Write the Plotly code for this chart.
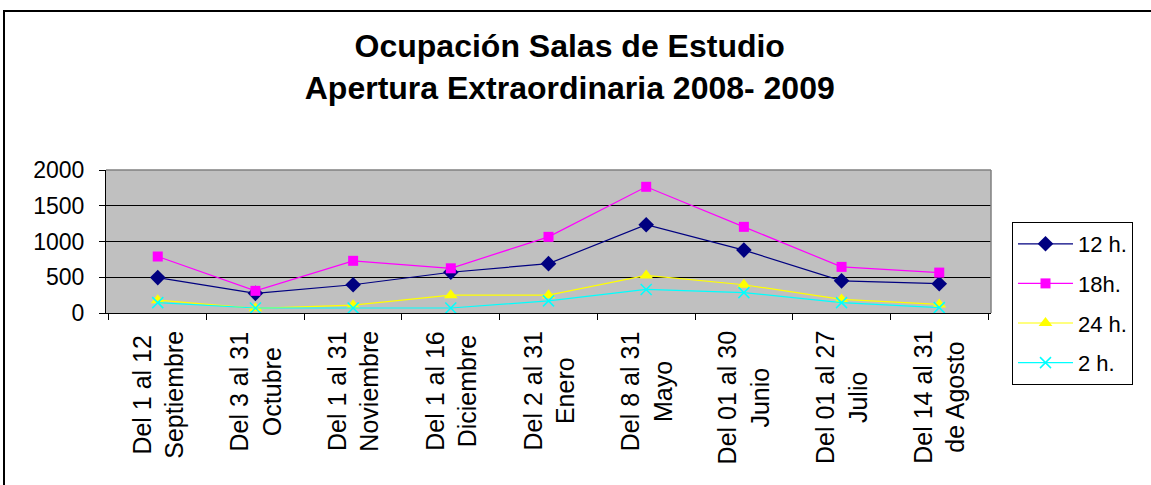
import plotly.graph_objects as go

categories = [
    "Del 1 al 12<br>Septiembre",
    "Del 3 al 31<br>Octubre",
    "Del 1 al 31<br>Noviembre",
    "Del 1 al 16<br>Diciembre",
    "Del 2 al 31<br>Enero",
    "Del 8 al 31<br>Mayo",
    "Del 01 al 30<br>Junio",
    "Del 01 al 27<br>Julio",
    "Del 14 al 31<br>de Agosto",
]
h12 = [495, 275, 395, 570, 690, 1235, 880, 450, 410]
h18 = [790, 310, 730, 625, 1065, 1765, 1205, 645, 565]
h24 = [180, 65, 110, 250, 250, 525, 395, 190, 120]
h2 = [145, 70, 70, 70, 170, 330, 285, 145, 75]

series = [
    ("12 h.", h12, "#000080", "diamond", 12),
    ("18h.", h18, "#FF00FF", "square", 10),
    ("24 h.", h24, "#FFFF00", "triangle-up", 12),
    ("2 h.", h2, "#00FFFF", "x-thin", 11),
]

fig = go.Figure()
for i, (name, vals, color, sym, size) in enumerate(series):
    fig.add_trace(go.Scatter(
        x=categories, y=vals, name=name, mode="lines+markers",
        line=dict(color=color, width=1.2),
        marker=dict(symbol=sym, size=size, color=color,
                    line=dict(color=color, width=1.5 if sym == "x-thin" else 0)),
        legendgroup=f"g{i}",
    ))

L, R, T, B = 106, 160, 170, 172
W, H = 1151, 485
pw = W - L - R
ph = H - T - B

def px2x(px):
    return (px - L) / pw

def py2y(py):
    return (H - B - py) / ph

annotations = [
    dict(text=c, x=c, xref="x", y=0, yref="paper", yanchor="top", xanchor="center",
         yshift=-16, textangle=-90, align="center", showarrow=False,
         font=dict(size=25, color="black"))
    for c in categories
]

fig.update_layout(
    width=W, height=H,
    margin=dict(l=L, r=R, t=T, b=B, autoexpand=False),
    paper_bgcolor="white",
    plot_bgcolor="#C0C0C0",
    font=dict(family="Liberation Sans, Arial, sans-serif", color="black"),
    title=dict(
        text="<b>Ocupación Salas de Estudio<br>Apertura Extraordinaria 2008- 2009</b>",
        x=0.495, xanchor="center", xref="container",
        y=1 - 57 / H, yanchor="middle", yref="container",
        font=dict(size=32, color="black"),
    ),
    xaxis=dict(
        type="category", tickson="boundaries", showticklabels=False,
        ticks="outside", ticklen=6, tickcolor="black",
        showline=True, linecolor="black", linewidth=1,
        showgrid=False,
    ),
    yaxis=dict(
        range=[0, 2000], dtick=500, tick0=0,
        ticks="outside", ticklen=6, tickcolor="black",
        showline=True, linecolor="black", linewidth=1,
        showgrid=True, gridcolor="black", gridwidth=1,
        tickfont=dict(size=23), zeroline=False, ticklabelstandoff=10,
    ),
    legend=dict(
        x=px2x(1012), xanchor="left", y=py2y(222), yanchor="top",
        bordercolor="black", borderwidth=1, bgcolor="white",
        font=dict(size=22), tracegroupgap=8, maxheight=400,
        itemwidth=55,
    ),
    showlegend=True,
    annotations=annotations,
    shapes=[
        dict(type="line", xref="paper", yref="paper", x0=0, x1=1, y0=1, y1=1,
             line=dict(color="#808080", width=1.5)),
        dict(type="line", xref="paper", yref="paper", x0=1, x1=1, y0=0, y1=1,
             line=dict(color="#808080", width=1.5)),
        dict(type="rect", xref="paper", yref="paper",
             x0=px2x(4), x1=px2x(1170), y0=py2y(500), y1=py2y(11),
             line=dict(color="black", width=2), fillcolor="rgba(0,0,0,0)"),
    ],
)

fig.write_html("out.html", config={"displayModeBar": False},
               post_script="document.body.style.margin='0';document.body.style.overflow='hidden';")
